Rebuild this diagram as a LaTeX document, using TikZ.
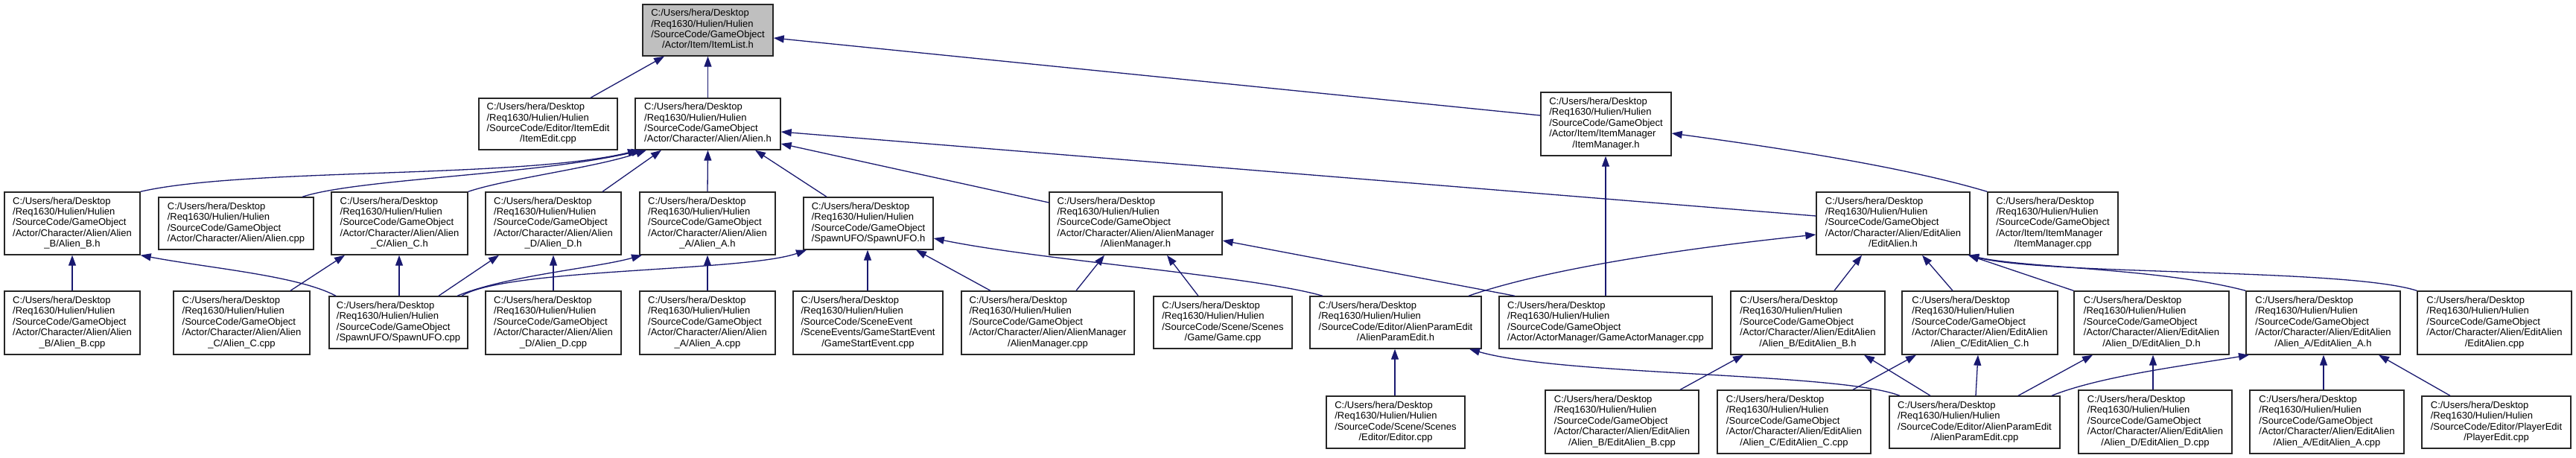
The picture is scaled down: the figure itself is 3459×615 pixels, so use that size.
\documentclass[tikz,border=0pt]{standalone}
\usepackage{fontspec}
\setmainfont{Liberation Sans}
\usetikzlibrary{arrows.meta}
\definecolor{edgeblue}{HTML}{191970}
\definecolor{boxgray}{HTML}{BFBFBF}
\newcommand\hdr{C:/Users/hera/Desktop\\/Req1630/Hulien/Hulien}
\newcommand\lab[2]{\begin{tabular}{@{}l@{}}#1\\\multicolumn{1}{@{}c@{}}{#2}\end{tabular}}
\newcommand\nd[7][]{%
 \pgfmathsetmacro\ndcx{(#3+#5)/2}%
 \pgfmathsetmacro\ndcy{(#4+#6)/2}%
 \pgfmathsetmacro\ndw{#5-#3}%
 \pgfmathsetmacro\ndh{#6-#4}%
 \node[dbox,minimum width=\ndw pt,minimum height=\ndh pt,#1] (#2) at (\ndcx,\ndcy) {#7};}
\tikzset{
 dbox/.style={rectangle,draw=black!85,line width=1.4pt,fill=white,inner sep=0pt,
   font=\fontsize{13}{14.4}\selectfont},
 edge/.style={draw=edgeblue,line width=1.3pt,-{Triangle[length=14pt,width=10pt]}}
}
\begin{document}
\begin{tikzpicture}[x=1pt,y=-1pt]
\useasboundingbox[fill=white] (0,0) rectangle (3459,615);
% row 0
\nd[fill=boxgray]{itemlist}{863}{6}{1038}{75}{\lab{\hdr\\/SourceCode/GameObject}{/Actor/Item/ItemList.h}}
% row 1
\nd{itemedit}{643}{132}{829}{201}{\lab{\hdr\\/SourceCode/Editor/ItemEdit}{/ItemEdit.cpp}}
\nd{alienh}{853}{132}{1048}{201}{\lab{\hdr\\/SourceCode/GameObject}{/Actor/Character/Alien/Alien.h}}
\nd{itemmgrh}{2069}{124}{2244}{209}{\lab{\hdr\\/SourceCode/GameObject\\/Actor/Item/ItemManager}{/ItemManager.h}}
% row 2
\nd{alienBh}{6}{258}{188}{342}{\lab{\hdr\\/SourceCode/GameObject\\/Actor/Character/Alien/Alien}{\_B/Alien\_B.h}}
\nd{aliencpp}{213}{265}{421}{335}{\lab{\hdr\\/SourceCode/GameObject}{/Actor/Character/Alien/Alien.cpp}}
\nd{alienCh}{445}{258}{628}{342}{\lab{\hdr\\/SourceCode/GameObject\\/Actor/Character/Alien/Alien}{\_C/Alien\_C.h}}
\nd{alienDh}{652}{258}{834}{342}{\lab{\hdr\\/SourceCode/GameObject\\/Actor/Character/Alien/Alien}{\_D/Alien\_D.h}}
\nd{alienAh}{859}{258}{1041}{342}{\lab{\hdr\\/SourceCode/GameObject\\/Actor/Character/Alien/Alien}{\_A/Alien\_A.h}}
\nd{spawnh}{1079}{265}{1253}{335}{\lab{\hdr\\/SourceCode/GameObject}{/SpawnUFO/SpawnUFO.h}}
\nd{alienmgrh}{1409}{258}{1641}{342}{\lab{\hdr\\/SourceCode/GameObject\\/Actor/Character/Alien/AlienManager}{/AlienManager.h}}
\nd{editalienh}{2439}{258}{2645}{342}{\lab{\hdr\\/SourceCode/GameObject\\/Actor/Character/Alien/EditAlien}{/EditAlien.h}}
\nd{itemmgrcpp}{2669}{258}{2844}{342}{\lab{\hdr\\/SourceCode/GameObject\\/Actor/Item/ItemManager}{/ItemManager.cpp}}
% row 3
\nd{alienBcpp}{6}{391}{188}{476}{\lab{\hdr\\/SourceCode/GameObject\\/Actor/Character/Alien/Alien}{\_B/Alien\_B.cpp}}
\nd{alienCcpp}{233}{391}{416}{476}{\lab{\hdr\\/SourceCode/GameObject\\/Actor/Character/Alien/Alien}{\_C/Alien\_C.cpp}}
\nd{spawncpp}{442}{398}{628}{468}{\lab{\hdr\\/SourceCode/GameObject}{/SpawnUFO/SpawnUFO.cpp}}
\nd{alienDcpp}{652}{391}{834}{476}{\lab{\hdr\\/SourceCode/GameObject\\/Actor/Character/Alien/Alien}{\_D/Alien\_D.cpp}}
\nd{alienAcpp}{859}{391}{1041}{476}{\lab{\hdr\\/SourceCode/GameObject\\/Actor/Character/Alien/Alien}{\_A/Alien\_A.cpp}}
\nd{gamestart}{1065}{391}{1266}{476}{\lab{\hdr\\/SourceCode/SceneEvent\\/SceneEvents/GameStartEvent}{/GameStartEvent.cpp}}
\nd{alienmgrcpp}{1291}{391}{1523}{476}{\lab{\hdr\\/SourceCode/GameObject\\/Actor/Character/Alien/AlienManager}{/AlienManager.cpp}}
\nd{gamecpp}{1549}{398}{1735}{468}{\lab{\hdr\\/SourceCode/Scene/Scenes}{/Game/Game.cpp}}
\nd{apeh}{1759}{398}{1989}{468}{\lab{\hdr\\/SourceCode/Editor/AlienParamEdit}{/AlienParamEdit.h}}
\nd{gam}{2013}{398}{2299}{468}{\lab{\hdr\\/SourceCode/GameObject}{/Actor/ActorManager/GameActorManager.cpp}}
\nd{eaBh}{2324}{391}{2531}{476}{\lab{\hdr\\/SourceCode/GameObject\\/Actor/Character/Alien/EditAlien}{/Alien\_B/EditAlien\_B.h}}
\nd{eaCh}{2554}{391}{2763}{476}{\lab{\hdr\\/SourceCode/GameObject\\/Actor/Character/Alien/EditAlien}{/Alien\_C/EditAlien\_C.h}}
\nd{eaDh}{2785}{391}{2993}{476}{\lab{\hdr\\/SourceCode/GameObject\\/Actor/Character/Alien/EditAlien}{/Alien\_D/EditAlien\_D.h}}
\nd{eaAh}{3016}{391}{3223}{476}{\lab{\hdr\\/SourceCode/GameObject\\/Actor/Character/Alien/EditAlien}{/Alien\_A/EditAlien\_A.h}}
\nd{eacpp}{3246}{391}{3453}{476}{\lab{\hdr\\/SourceCode/GameObject\\/Actor/Character/Alien/EditAlien}{/EditAlien.cpp}}
% row 4
\nd{editorcpp}{1781}{532}{1967}{602}{\lab{\hdr\\/SourceCode/Scene/Scenes}{/Editor/Editor.cpp}}
\nd{eaBcpp}{2075}{524}{2281}{609}{\lab{\hdr\\/SourceCode/GameObject\\/Actor/Character/Alien/EditAlien}{/Alien\_B/EditAlien\_B.cpp}}
\nd{eaCcpp}{2306}{524}{2512}{609}{\lab{\hdr\\/SourceCode/GameObject\\/Actor/Character/Alien/EditAlien}{/Alien\_C/EditAlien\_C.cpp}}
\nd{apecpp}{2537}{532}{2766}{602}{\lab{\hdr\\/SourceCode/Editor/AlienParamEdit}{/AlienParamEdit.cpp}}
\nd{eaDcpp}{2791}{524}{2997}{609}{\lab{\hdr\\/SourceCode/GameObject\\/Actor/Character/Alien/EditAlien}{/Alien\_D/EditAlien\_D.cpp}}
\nd{eaAcpp}{3021}{524}{3228}{609}{\lab{\hdr\\/SourceCode/GameObject\\/Actor/Character/Alien/EditAlien}{/Alien\_A/EditAlien\_A.cpp}}
\nd{playeredit}{3252}{532}{3452}{602}{\lab{\hdr\\/SourceCode/Editor/PlayerEdit}{/PlayerEdit.cpp}}
% edges
\draw[edge] (itemedit.north -| 793,0) -- (itemlist.south -| 892,0);
\draw[edge] (alienh.north) -- (itemlist.south);
\draw[edge] (itemmgrh.west |- 0,155) -- (itemlist.east |- 0,51);
\draw[edge] (itemmgrcpp.north west) .. controls (2560,225) and (2400,200) .. (itemmgrh.east |- 0,179);
\draw[edge] (gam.north -| 2156,0) -- (itemmgrh.south -| 2156,0);
\draw[edge] (alienBh.north east) .. controls (330,225) and (700,240) .. (alienh.south -| 857,0);
\draw[edge] (aliencpp.north -| 406,0) .. controls (480,240) and (720,235) .. (alienh.south -| 862,0);
\draw[edge] (alienCh.north east) .. controls (680,240) and (800,225) .. (alienh.south -| 868,0);
\draw[edge] (alienDh.north -| 809,0) -- (alienh.south -| 888,0);
\draw[edge] (alienAh.north) -- (alienh.south);
\draw[edge] (spawnh.north -| 1110,0) -- (alienh.south -| 1014,0);
\draw[edge] (alienmgrh.west |- 0,272) -- (alienh.east |- 0,193);
\draw[edge] (editalienh.west |- 0,290) -- (alienh.east |- 0,177);
\draw[edge] (alienBcpp.north) -- (alienBh.south);
\draw[edge] (spawncpp.north -| 451,0) .. controls (400,370) and (280,360) .. (alienBh.south east);
\draw[edge] (alienCcpp.north -| 390,0) -- (alienCh.south -| 463,0);
\draw[edge] (spawncpp.north -| 536,0) -- (alienCh.south -| 536,0);
\draw[edge] (alienDcpp.north) -- (alienDh.south);
\draw[edge] (spawncpp.north -| 589,0) -- (alienDh.south -| 670,0);
\draw[edge] (alienAcpp.north) -- (alienAh.south);
\draw[edge] (spawncpp.north -| 614,0) .. controls (680,370) and (800,360) .. (alienAh.south -| 862,0);
\draw[edge] (spawncpp.north -| 620,0) .. controls (680,360) and (1000,365) .. (spawnh.south -| 1083,0);
\draw[edge] (gamestart.north -| 1165,0) -- (spawnh.south -| 1165,0);
\draw[edge] (alienmgrcpp.north -| 1330,0) -- (spawnh.south -| 1230,0);
\draw[edge] (apeh.north -| 1776,0) .. controls (1680,370) and (1400,350) .. (spawnh.east |- 0,320);
\draw[edge] (alienmgrcpp.north -| 1445,0) -- (alienmgrh.south -| 1483,0);
\draw[edge] (gamecpp.north -| 1609,0) -- (alienmgrh.south -| 1567,0);
\draw[edge] (gam.north -| 2034,0) -- (alienmgrh.east |- 0,323);
\draw[edge] (apeh.north -| 1972,0) .. controls (2050,370) and (2200,340) .. (editalienh.west |- 0,315);
\draw[edge] (eaBh.north -| 2463,0) -- (editalienh.south -| 2500,0);
\draw[edge] (eaCh.north -| 2622,0) -- (editalienh.south -| 2581,0);
\draw[edge] (eaDh.north west) -- (editalienh.south -| 2643,0);
\draw[edge] (eaAh.north west) .. controls (2900,360) and (2720,360) .. (editalienh.south -| 2643,0);
\draw[edge] (eacpp.north west) .. controls (3150,360) and (2750,370) .. (editalienh.south -| 2643,0);
\draw[edge] (eaBcpp.north -| 2256,0) -- (eaBh.south -| 2341,0);
\draw[edge] (apecpp.north -| 2592,0) -- (eaBh.south -| 2503,0);
\draw[edge] (eaCcpp.north -| 2488,0) -- (eaCh.south -| 2573,0);
\draw[edge] (apecpp.north -| 2653,0) -- (eaCh.south -| 2656,0);
\draw[edge] (apecpp.north -| 2710,0) -- (eaDh.south -| 2810,0);
\draw[edge] (eaDcpp.north -| 2891,0) -- (eaDh.south -| 2891,0);
\draw[edge] (apecpp.north -| 2755,0) .. controls (2820,505) and (2940,490) .. (eaAh.south -| 3020,0);
\draw[edge] (eaAcpp.north -| 3120,0) -- (eaAh.south -| 3120,0);
\draw[edge] (playeredit.north -| 3290,0) -- (eaAh.south -| 3194,0);
\draw[edge] (editorcpp.north -| 1873,0) -- (apeh.south -| 1873,0);
\draw[edge] (apecpp.north -| 2551,0) .. controls (2470,500) and (2100,505) .. (apeh.south -| 1973,0);
\end{tikzpicture}
\end{document}
